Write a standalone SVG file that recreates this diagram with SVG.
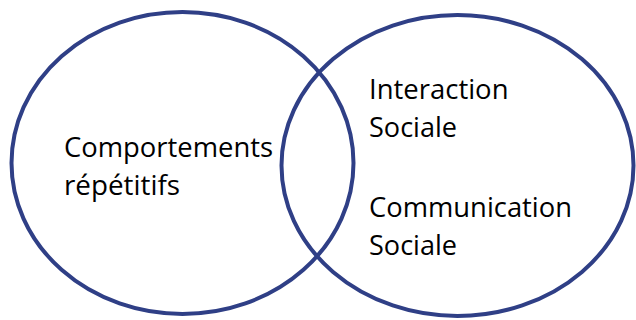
<svg xmlns="http://www.w3.org/2000/svg" width="636" height="320" viewBox="0 0 636 320">
<style>
.set{fill:none;stroke:#2F3F86;stroke-width:4}
.lbl{font-family:"Open Sans","Liberation Sans",sans-serif;font-size:28px;fill:#000}
</style>
<rect width="636" height="320" fill="#fff"/>
<g id="set-left">
<ellipse class="set" cx="182.5" cy="163" rx="171" ry="151"/>
<text class="lbl" x="64" y="156.5" textLength="209" lengthAdjust="spacingAndGlyphs">Comportements</text>
<text class="lbl" x="64" y="195" textLength="116" lengthAdjust="spacingAndGlyphs">répétitifs</text>
</g>
<g id="set-right">
<ellipse class="set" cx="457.5" cy="165.5" rx="176" ry="150.5"/>
<text class="lbl" x="369" y="99.3" textLength="139.5" lengthAdjust="spacingAndGlyphs">Interaction</text>
<text class="lbl" x="369" y="136.7" textLength="88" lengthAdjust="spacingAndGlyphs">Sociale</text>
<text class="lbl" x="369" y="216.7" textLength="203" lengthAdjust="spacingAndGlyphs">Communication</text>
<text class="lbl" x="369" y="255" textLength="88" lengthAdjust="spacingAndGlyphs">Sociale</text>
</g>
<g id="connectors"/>
</svg>
